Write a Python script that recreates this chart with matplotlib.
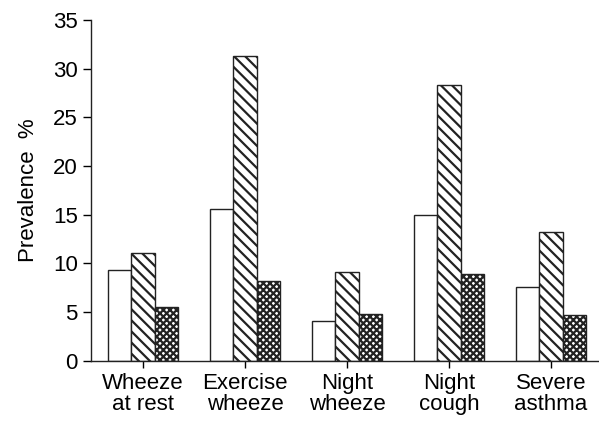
import matplotlib
matplotlib.use("Agg")
import matplotlib.pyplot as plt
import numpy as np

plt.rcParams['font.family'] = ['Liberation Sans Narrow', 'Liberation Sans', 'DejaVu Sans']
plt.rcParams['hatch.linewidth'] = 1.6

categories = ["Wheeze\nat rest", "Exercise\nwheeze", "Night\nwheeze", "Night\ncough", "Severe\nasthma"]
series_a = [9.3, 15.6, 4.1, 15.0, 7.6]
series_b = [11.1, 31.3, 9.1, 28.3, 13.2]
series_c = [5.5, 8.2, 4.8, 8.9, 4.7]

x = np.arange(len(categories))
w = 0.23

fig = plt.figure(figsize=(5.99, 4.23), dpi=100)
ax = fig.add_axes([0.152, 0.147, 0.848, 0.806])

ax.bar(x - w, series_a, w, color='white', edgecolor='#222222', linewidth=1.0)
ax.bar(x, series_b, w, color='white', edgecolor='#222222', linewidth=1.0, hatch='\\\\\\')
ax.bar(x + w, series_c, w, color='white', edgecolor='#222222', linewidth=1.0, hatch='xxxxx')

ax.set_xlim(-0.51, 4.47)
ax.set_ylim(0, 35)
ax.set_yticks(range(0, 36, 5))
ax.set_xticks(x)
ax.set_xticklabels(categories, fontsize=16, linespacing=1.0)
ax.tick_params(axis='y', labelsize=16, length=6, width=1, direction='out')
ax.tick_params(axis='x', length=5, width=1, direction='out')
ax.set_ylabel("Prevalence  %", fontsize=16, labelpad=10)

for s in ['top', 'right']:
    ax.spines[s].set_visible(False)
for s in ['left', 'bottom']:
    ax.spines[s].set_linewidth(1.0)
    ax.spines[s].set_color('#222222')

fig.savefig("out.png", dpi=100)
